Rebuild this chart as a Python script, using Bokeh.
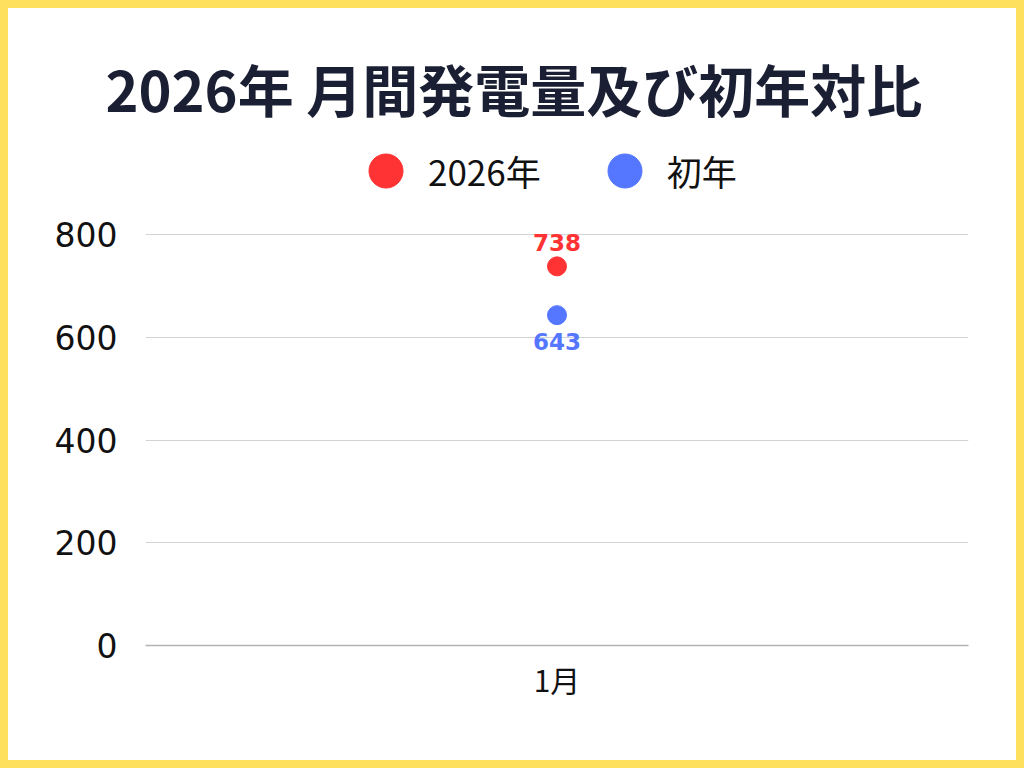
from bokeh.plotting import figure
from bokeh.models import (ColumnDataSource, FactorRange, Range1d, FixedTicker, Legend,
                          LegendItem, LabelSet, Title)
from bokeh.core.properties import value
from bokeh.embed import file_html
from bokeh.resources import INLINE

# ---- data ----
title_text = "2026年 月間発電量及び初年対比"
months = ["1月"]
series_names = ["2026年", "初年"]
values_2026 = [738]
values_first = [643]
y_ticks = [0, 200, 400, 600, 800]

RED = "#FF3333"
BLUE = "#5577FF"
FONT = "Noto Sans CJK JP"
NUM_FONT = "DejaVu Sans"

# Frame: top at 120 px, bottom at 637 px in the figure (517 px tall); 800 lies 411 px
# above the baseline, so the range continues above 800 to hold the legend.
TOP_BORDER = 120
Y_TOP = 800 * (637 - TOP_BORDER) / 411

p = figure(width=1008, height=752, x_range=FactorRange(*months), y_range=Range1d(0, Y_TOP),
           output_backend="svg", toolbar_location=None,
           min_border_left=137, min_border_right=48, min_border_top=TOP_BORDER,
           min_border_bottom=115)
p.background_fill_color = "white"
p.border_fill_color = "white"
p.outline_line_color = None
p.styles = {"background-color": "white"}

p.title = Title(text=title_text, align="left", offset=-40, standoff=1,
                text_font=FONT, text_font_size="56px", text_font_style="bold",
                text_color="#1B1F33")

src_a = ColumnDataSource(dict(x=months, y=values_2026, t=[str(v) for v in values_2026]))
src_b = ColumnDataSource(dict(x=months, y=values_first, t=[str(v) for v in values_first]))

r_a = p.scatter("x", "y", source=src_a, size=19, color=RED)
r_b = p.scatter("x", "y", source=src_b, size=19, color=BLUE)

lab_a = LabelSet(x="x", y="y", text="t", source=src_a, y_offset=15, text_align="center",
                 text_baseline="bottom", text_font=value(NUM_FONT), text_font_size="23px",
                 text_font_style="bold", text_color=RED)
lab_b = LabelSet(x="x", y="y", text="t", source=src_b, y_offset=-18, text_align="center",
                 text_baseline="top", text_font=value(NUM_FONT), text_font_size="23px",
                 text_font_style="bold", text_color=BLUE)
p.add_layout(lab_a)
p.add_layout(lab_b)

# legend position: bottom-left corner, relative to the frame's bottom-left, in pixels
legend = Legend(items=[LegendItem(label=series_names[0], renderers=[r_a]),
                       LegendItem(label=series_names[1], renderers=[r_b])],
                orientation="horizontal", location=(198, 432),
                glyph_width=85, glyph_height=85, label_standoff=0, spacing=41,
                label_text_font=FONT, label_text_font_size="35px", label_text_color="#111111",
                border_line_color=None, background_fill_alpha=0, padding=0, margin=0)
p.add_layout(legend, "center")

# axes
p.xaxis.axis_line_color = "#B3B3B3"
p.xaxis.axis_line_width = 1.5
p.xaxis.major_tick_line_color = None
p.xaxis.minor_tick_line_color = None
p.xaxis.major_label_text_font = FONT
p.xaxis.major_label_text_font_size = "30px"
p.xaxis.major_label_text_color = "#111111"
p.xaxis.major_label_standoff = 5

p.yaxis.ticker = FixedTicker(ticks=y_ticks)
p.yaxis.axis_line_color = None
p.yaxis.major_tick_line_color = None
p.yaxis.minor_tick_line_color = None
p.yaxis.major_label_text_font = NUM_FONT
p.yaxis.major_label_text_font_size = "33px"
p.yaxis.major_label_text_color = "#111111"
p.yaxis.major_label_standoff = 22

p.xgrid.grid_line_color = None
p.ygrid.grid_line_color = "#D3D3D3"
p.ygrid.grid_line_width = 1

# page background (the margin around the figure shows as a yellow frame)
TEMPLATE = """
{% block postamble %}
<style>
html { background: #FFDF5E !important; }
html, body { margin: 0 !important; padding: 0 !important; }
body { padding: 8px !important; box-sizing: border-box; background: #FFDF5E !important; }
</style>
{% endblock %}
"""

open("out.html", "w").write(file_html(p, INLINE, template=TEMPLATE))
